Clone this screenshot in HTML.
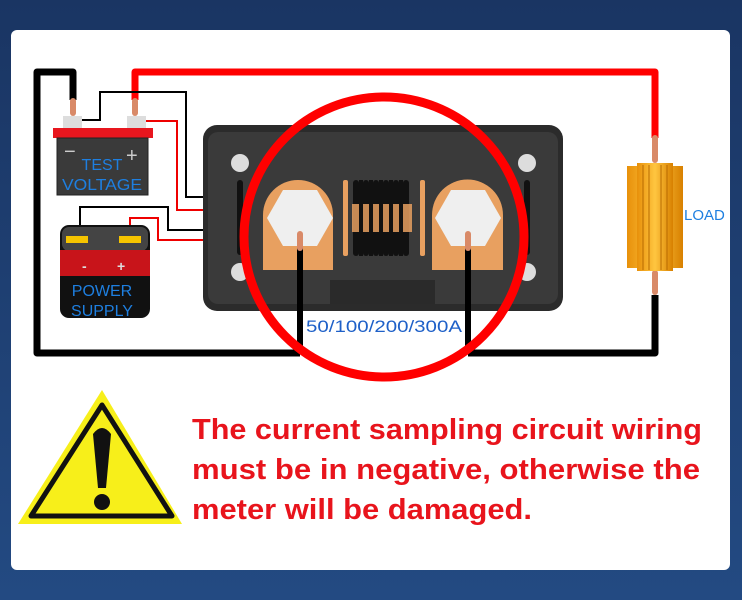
<!DOCTYPE html>
<html><head><meta charset="utf-8"><style>
html,body{margin:0;padding:0;width:742px;height:600px;overflow:hidden;background:#1d3c6e;}
svg{display:block}
</style></head><body>
<svg width="742" height="600" viewBox="0 0 742 600" xmlns="http://www.w3.org/2000/svg">
<defs>
<linearGradient id="bg" x1="0" y1="0" x2="0" y2="1"><stop offset="0" stop-color="#1a3563"/><stop offset="1" stop-color="#234a82"/></linearGradient>
<linearGradient id="res" x1="0" y1="0" x2="1" y2="0"><stop offset="0" stop-color="#e8900a"/><stop offset="0.5" stop-color="#ffc640"/><stop offset="1" stop-color="#d88000"/></linearGradient>
</defs>
<rect width="742" height="600" fill="url(#bg)"/>
<rect x="11" y="30" width="719" height="540" rx="6" fill="#fff"/>

<rect x="203" y="125" width="360" height="186" rx="14" fill="#2b2b2b"/>
<rect x="208" y="132" width="350" height="172" rx="10" fill="#3a3a3a"/>
<rect x="330" y="280" width="105" height="24" fill="#2a2a2a"/>
<circle cx="240" cy="163" r="9" fill="#ddd"/><circle cx="240" cy="272" r="9" fill="#ddd"/>
<circle cx="527" cy="163" r="9" fill="#ddd"/><circle cx="527" cy="272" r="9" fill="#ddd"/>
<rect x="237" y="180" width="6" height="75" rx="3" fill="#111"/><rect x="524" y="180" width="6" height="75" rx="3" fill="#111"/>
<rect x="343" y="180" width="5" height="76" rx="2" fill="#e8a060"/>
<rect x="420" y="180" width="5" height="76" rx="2" fill="#e8a060"/>
<g fill="#111"><rect x="353" y="180" width="6" height="76" rx="3"/><rect x="363" y="180" width="6" height="76" rx="3"/><rect x="373" y="180" width="6" height="76" rx="3"/><rect x="383" y="180" width="6" height="76" rx="3"/><rect x="393" y="180" width="6" height="76" rx="3"/><rect x="403" y="180" width="6" height="76" rx="3"/></g>
<rect x="352" y="204" width="60" height="28" fill="#e8a060" opacity="0.85"/>
<g fill="#111"><rect x="359" y="180" width="4" height="76"/><rect x="369" y="180" width="4" height="76"/><rect x="379" y="180" width="4" height="76"/><rect x="389" y="180" width="4" height="76"/><rect x="399" y="180" width="4" height="76"/></g>
<path d="M263 270 V215 A35 35 0 0 1 333 215 V270 Z" fill="#e8a060"/>
<path d="M432 270 V215 A35 35 0 0 1 503 215 V270 Z" fill="#e8a060"/>
<polygon points="283,190 317,190 333,218 317,246 283,246 267,218" fill="#efefef"/>
<polygon points="451,190 485,190 501,218 485,246 451,246 435,218" fill="#efefef"/>

<polyline points="300,353 37,353 37,72 73,72 73,100" fill="none" stroke="#000" stroke-width="7" stroke-linejoin="round"/>
<polyline points="468,353 655,353 655,295" fill="none" stroke="#000" stroke-width="7" stroke-linejoin="round"/>
<line x1="300" y1="236" x2="300" y2="353" stroke="#000" stroke-width="6"/>
<line x1="468" y1="236" x2="468" y2="353" stroke="#000" stroke-width="6"/>
<rect x="297" y="231" width="6" height="20" rx="3" fill="#d98a68"/>
<rect x="465" y="231" width="6" height="20" rx="3" fill="#d98a68"/>
<polyline points="135,100 135,72 655,72 655,138" fill="none" stroke="#f00" stroke-width="7" stroke-linejoin="round"/>

<g fill="none" stroke-width="2">
<polyline points="80,120 100,120 100,92 186,92 186,197 203,197" stroke="#000"/>
<polyline points="142,121 177,121 177,210 203,210" stroke="#e00"/>
<polyline points="80,232 80,207 168,207 168,230 203,230" stroke="#000"/>
<polyline points="130,232 130,218 158,218 158,240 203,240" stroke="#e00"/>
</g>

<rect x="70" y="98" width="6" height="18" rx="3" fill="#d98a68"/>
<rect x="132" y="98" width="6" height="18" rx="3" fill="#d98a68"/>
<rect x="63" y="116" width="19" height="12" fill="#ddd"/>
<rect x="127" y="116" width="19" height="12" fill="#ddd"/>
<rect x="53" y="128" width="100" height="10" fill="#e8161e"/>
<rect x="57" y="138" width="91" height="57" fill="#3a3a3a" stroke="#222"/>
<text x="64" y="158" font-family="Liberation Sans,sans-serif" font-size="20" fill="#ccc">−</text>
<text x="126" y="162" font-family="Liberation Sans,sans-serif" font-size="20" fill="#ccc">+</text>
<text x="102" y="170" text-anchor="middle" font-family="Liberation Sans,sans-serif" font-size="16" fill="#1e7fe0">TEST</text>
<text x="102" y="190" text-anchor="middle" font-family="Liberation Sans,sans-serif" font-size="16" fill="#1e7fe0" textLength="80" lengthAdjust="spacingAndGlyphs">VOLTAGE</text>

<rect x="60" y="225" width="90" height="93" rx="9" fill="#111"/>
<rect x="62" y="227" width="86" height="24" rx="7" fill="#444"/>
<rect x="60" y="250" width="90" height="26" fill="#c8141a"/>
<rect x="66" y="236" width="22" height="7" fill="#f5c400"/>
<rect x="119" y="236" width="22" height="7" fill="#f5c400"/>
<text x="82" y="271" font-family="Liberation Sans,sans-serif" font-size="14" font-weight="bold" fill="#ddd">-</text>
<text x="117" y="271" font-family="Liberation Sans,sans-serif" font-size="14" font-weight="bold" fill="#ddd">+</text>
<text x="102" y="296" text-anchor="middle" font-family="Liberation Sans,sans-serif" font-size="16" fill="#1e7fe0">POWER</text>
<text x="102" y="316" text-anchor="middle" font-family="Liberation Sans,sans-serif" font-size="16" fill="#1e7fe0">SUPPLY</text>

<rect x="652" y="135" width="6" height="28" rx="3" fill="#d98a68"/>
<rect x="652" y="270" width="6" height="25" rx="3" fill="#d98a68"/>
<rect x="627" y="166" width="56" height="102" fill="url(#res)"/>
<rect x="637" y="163" width="36" height="108" fill="url(#res)"/>
<g stroke="#b86a00" stroke-width="1"><line x1="643" y1="165" x2="643" y2="270"/><line x1="649" y1="165" x2="649" y2="270"/><line x1="661" y1="165" x2="661" y2="270"/><line x1="667" y1="165" x2="667" y2="270"/></g>
<text x="684" y="220" font-family="Liberation Sans,sans-serif" font-size="15" fill="#1e7fe0">LOAD</text>

<circle cx="384" cy="237" r="140" fill="none" stroke="#f00" stroke-width="9"/>
<text x="306" y="332" font-family="Liberation Sans,sans-serif" font-size="17" fill="#1e60c8" textLength="156" lengthAdjust="spacingAndGlyphs">50/100/200/300A</text>

<polygon points="102,390 18,524 182,524" fill="#f7ef1a"/>
<polygon points="102,405 31,516 172,516" fill="none" stroke="#111" stroke-width="5" stroke-linejoin="round"/>
<path d="M93 434 Q102 422 111 434 L106 488 L98 488 Z" fill="#111"/>
<circle cx="102" cy="502" r="8" fill="#111"/>
<g font-family="Liberation Sans,sans-serif" font-size="29" font-weight="bold" fill="#e8141c">
<text x="192" y="439" textLength="510" lengthAdjust="spacingAndGlyphs">The current sampling circuit wiring</text>
<text x="192" y="479" textLength="508" lengthAdjust="spacingAndGlyphs">must be in negative, otherwise the</text>
<text x="192" y="519" textLength="340" lengthAdjust="spacingAndGlyphs">meter will be damaged.</text>
</g>
</svg>
</body></html>
